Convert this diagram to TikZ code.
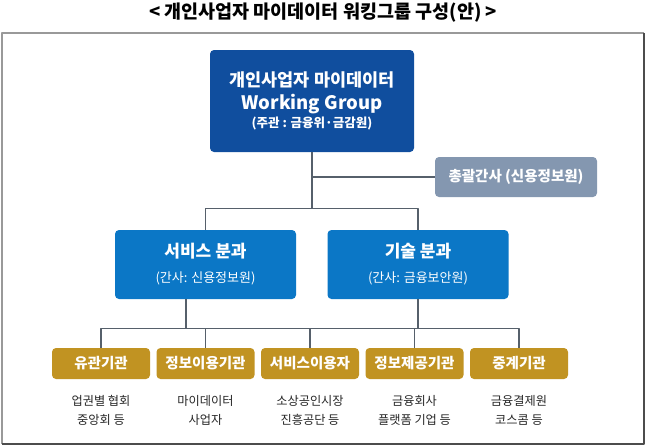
\documentclass[tikz,border=0pt]{standalone}
\usepackage{fontspec}
\setmainfont{Noto Sans CJK KR}
\usetikzlibrary{calc, positioning}

\definecolor{wgblue}{HTML}{104E9E}
\definecolor{teamblue}{HTML}{0B77C6}
\definecolor{leadgray}{HTML}{8497B0}
\definecolor{orggold}{HTML}{C19322}
\definecolor{linkgray}{HTML}{56606B}

\begin{document}
\begin{tikzpicture}[x=1pt, y=-1pt, line join=round,
  box/.style={rounded corners=4pt, text=white, align=center, inner sep=0pt},
  orgbox/.style={box, fill=orggold, minimum width=98pt, minimum height=31pt,
    font=\fontsize{14.5}{16}\selectfont\bfseries},
  teambox/.style={box, fill=teamblue, minimum width=181pt, minimum height=69pt,
    font=\fontsize{17}{25}\selectfont\bfseries},
  link/.style={draw=linkgray, line width=1.3pt},
  note/.style={align=center, text=black!85, inner sep=0pt,
    font=\fontsize{12.2}{19.5}\selectfont}]

\useasboundingbox (0,0) rectangle (647,447);

% Title and frame
\node[font=\fontsize{18.5}{20}\selectfont\bfseries] (title) at (323,13)
  {< 개인사업자 마이데이터 워킹그룹 구성(안) >};
\draw[line width=1.5pt, black!40] (2,444) -- (2,33) -- (644,33);
\draw[line width=1.5pt, black!70] (644,33) -- (644,444) -- (2,444);

% Working group and its lead secretary
\node[box, fill=wgblue, minimum width=204pt, minimum height=102pt,
  font=\fontsize{17.5}{23}\selectfont\bfseries] (wg) at (312,101)
  {개인사업자 마이데이터\\{\fontsize{18.5}{23}\selectfont Working Group}\\[-5pt]{\fontsize{12.5}{14}\selectfont (주관 : 금융위·금감원)}};
\node[box, fill=leadgray, minimum width=162pt, minimum height=40pt,
  font=\fontsize{14.5}{16}\selectfont\bfseries] (lead) at (516,177)
  {총괄간사 (신용정보원)};

% The two sub-committees
\node[teambox] (svc) at (205.5,264.5)
  {서비스 분과\\{\fontsize{13}{14}\selectfont\mdseries (간사: 신용정보원)}};
\node[teambox] (tech) at (418,264.5)
  {기술 분과\\{\fontsize{13}{14}\selectfont\mdseries (간사: 금융보안원)}};

% Member organisations
\node[orgbox] (assoc) at (101,363.5) {유관기관};
\node[orgbox] (infouse) at (205.5,363.5) {정보이용기관};
\node[orgbox] (user) at (310,363.5) {서비스이용자};
\node[orgbox] (provider) at (414.5,363.5) {정보제공기관};
\node[orgbox] (relay) at (519,363.5) {중계기관};

\node[note] (assocnote) at (101,410.5) {업권별 협회\\중앙회 등};
\node[note] (infousenote) at (205.5,410.5) {마이데이터\\사업자};
\node[note] (usernote) at (310,410.5) {소상공인시장\\진흥공단 등};
\node[note] (providernote) at (414.5,410.5) {금융회사\\플랫폼 기업 등};
\node[note] (relaynote) at (519,410.5) {금융결제원\\코스콤 등};

% Upper tree
\coordinate (split) at ($(wg.south)+(0,56)$);
\draw[link] (wg.south) -- (split);
\draw[link] (wg.south |- lead.west) -- (lead.west);
\draw[link] (svc.north) |- (split) -| (tech.north);

% Lower tree
\coordinate (svcout) at ([xshift=-19.5pt]svc.south);
\coordinate (lowsplit) at ($(svcout)+(0,29)$);
\draw[link] (svcout) -- (lowsplit);
\draw[link] (tech.south) -- (tech.south |- lowsplit);
\draw[link] (assoc.north) |- (lowsplit) -| (relay.north);
\draw[link] (infouse.north) -- (infouse.north |- lowsplit);
\draw[link] (user.north) -- (user.north |- lowsplit);
\draw[link] (provider.north) -- (provider.north |- lowsplit);
\end{tikzpicture}
\end{document}
